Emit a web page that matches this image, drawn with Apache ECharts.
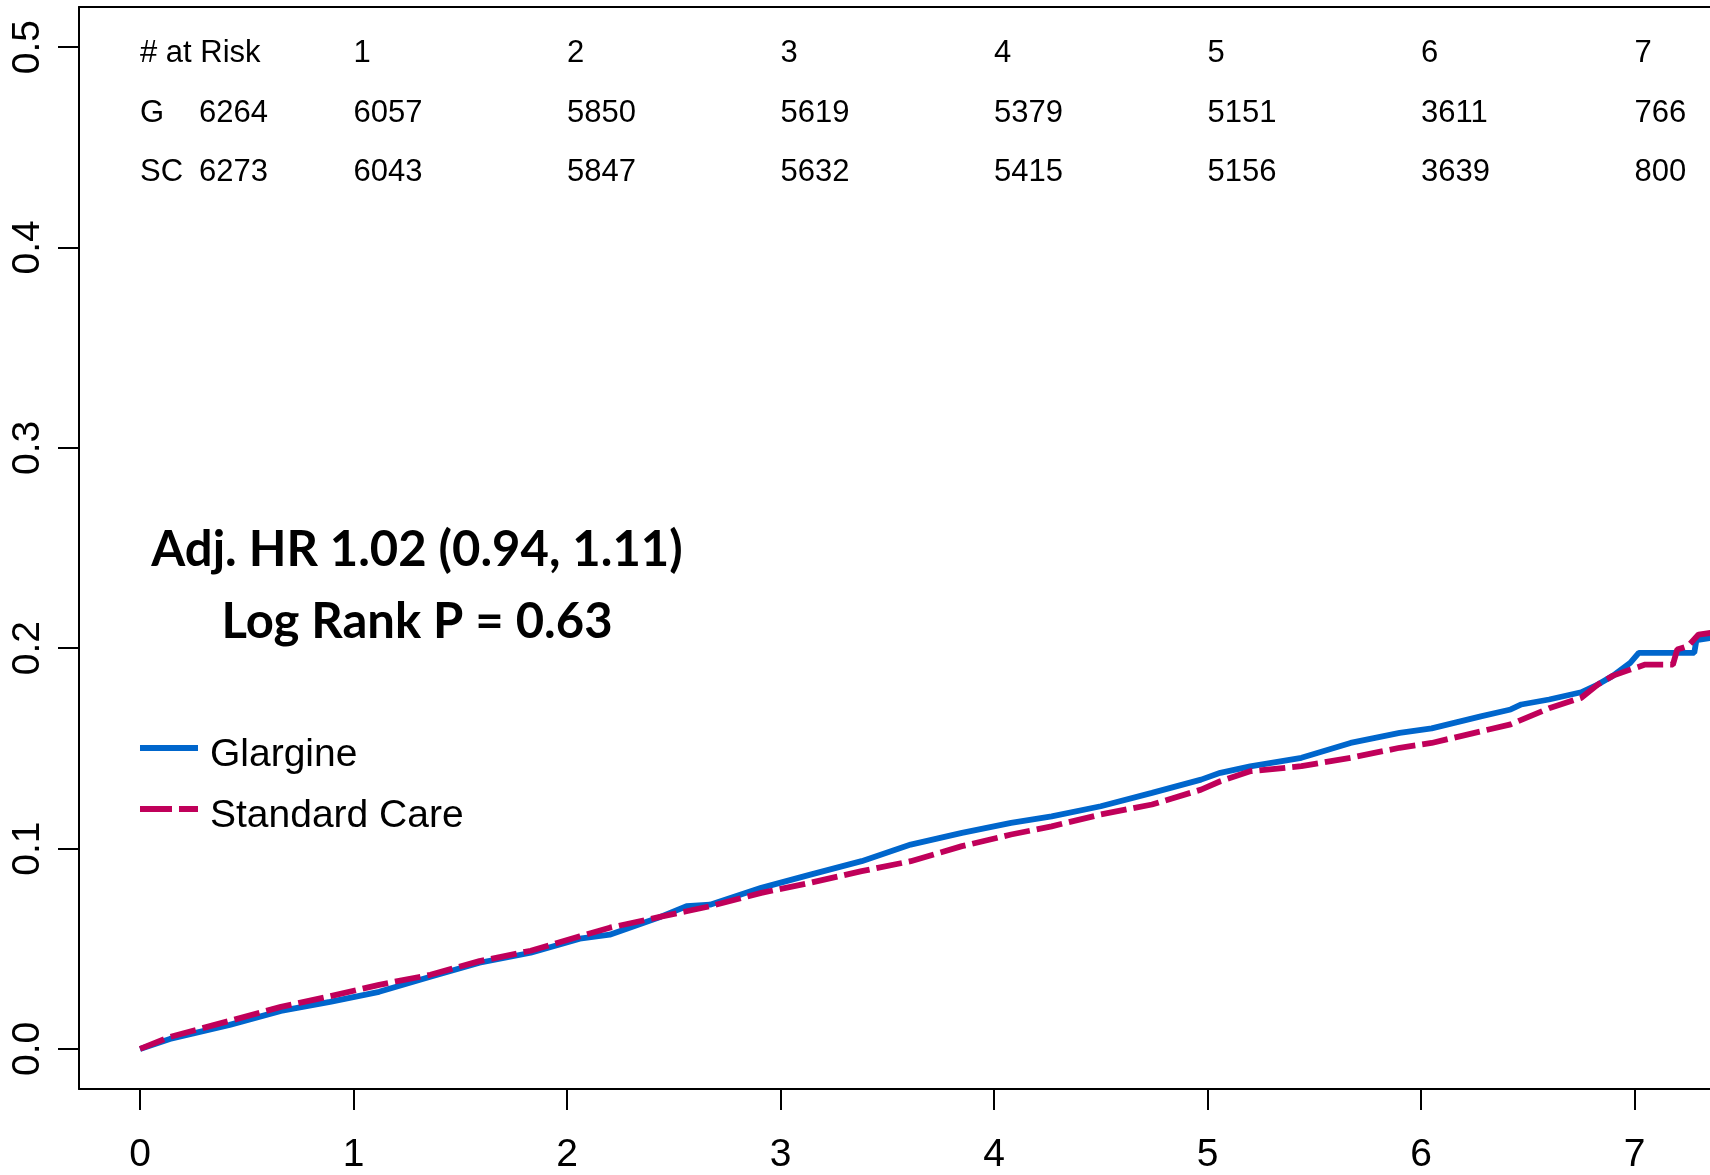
<!DOCTYPE html>
<html><head><meta charset="utf-8">
<script src="https://cdn.jsdelivr.net/npm/echarts@6/dist/echarts.min.js"></script>
<style>html,body{margin:0;padding:0;background:#fff}#c{width:1710px;height:1175px}</style>
</head><body><div id="c"></div>
<script>
// ---- data ----
const xTicks = [0, 1, 2, 3, 4, 5, 6, 7];
const yTicks = [0, 0.1, 0.2, 0.3, 0.4, 0.5];
const seriesNames = ['Glargine', 'Standard Care'];
const glargineT = [0, 0.14, 0.42, 0.66, 0.89, 1.12, 1.36, 1.59, 1.83, 2.06, 2.2, 2.44, 2.56, 2.67, 2.91, 3.14, 3.38, 3.61, 3.85, 4.08, 4.27, 4.5, 4.74, 4.97, 5.06, 5.2, 5.44, 5.67, 5.9, 6.05, 6.28, 6.42, 6.47, 6.6, 6.75, 6.83, 6.9, 6.98, 7.02, 7.28, 7.29, 7.36];
const glargineV = [0, 0.005, 0.012, 0.019, 0.0235, 0.0285, 0.036, 0.043, 0.048, 0.055, 0.057, 0.066, 0.0712, 0.072, 0.0804, 0.087, 0.0937, 0.102, 0.1078, 0.1128, 0.1161, 0.1211, 0.1278, 0.1344, 0.1378, 0.141, 0.1453, 0.1527, 0.1577, 0.160, 0.166, 0.1694, 0.1719, 0.1744, 0.178, 0.182, 0.1863, 0.1927, 0.1977, 0.1977, 0.204, 0.2052];
const standardT = [0, 0.14, 0.42, 0.66, 0.89, 1.12, 1.36, 1.59, 1.83, 2.06, 2.2, 2.44, 2.56, 2.67, 2.91, 3.14, 3.38, 3.61, 3.85, 4.08, 4.27, 4.5, 4.74, 4.97, 5.06, 5.2, 5.44, 5.67, 5.9, 6.05, 6.28, 6.42, 6.6, 6.75, 6.83, 6.9, 6.98, 7.05, 7.18, 7.2, 7.25, 7.3, 7.36];
const standardV = [0, 0.006, 0.014, 0.021, 0.0263, 0.032, 0.037, 0.0438, 0.049, 0.0562, 0.0605, 0.066, 0.0687, 0.0712, 0.0779, 0.0829, 0.0887, 0.0937, 0.1012, 0.107, 0.1111, 0.117, 0.122, 0.1294, 0.1336, 0.1386, 0.1411, 0.1453, 0.1503, 0.1527, 0.1585, 0.162, 0.170, 0.1752, 0.182, 0.1863, 0.1893, 0.1918, 0.1918, 0.1993, 0.201, 0.2068, 0.2077];
const riskHeader = '# at Risk';
const riskRowLabels = ['G', 'SC'];
const riskTimes = [0, 1, 2, 3, 4, 5, 6, 7];
const riskG = [6264, 6057, 5850, 5619, 5379, 5151, 3611, 766];
const riskSC = [6273, 6043, 5847, 5632, 5415, 5156, 3639, 800];
const annotations = ['Adj. HR 1.02 (0.94, 1.11)', 'Log Rank P = 0.63'];

// ---- chart ----
const FONT = '"Liberation Sans", Arial, sans-serif';
const zip = (a, b) => a.map((t, i) => [t, b[i]]);
const chart = echarts.init(document.getElementById('c'), null, {renderer: 'canvas'});
const GRID_W = 1661;
const X_MIN = -0.2857;
const X_MAX = X_MIN + GRID_W / 213.5;
const axisBlack = {color: '#000', width: 2};
const seriesLineStyles = [
  {color: '#0066CC', width: 5.8},
  {color: '#C0005A', width: 5.8, type: [26, 7], cap: 'butt'}
];
const option = {
  animation: false,
  backgroundColor: '#fff',
  grid: {left: 79, top: 7, width: GRID_W, bottom: 86, outerBoundsMode: 'none', containLabel: false},
  xAxis: [{
    type: 'value', min: X_MIN, max: X_MAX, position: 'bottom',
    axisLine: {show: true, onZero: false, lineStyle: axisBlack},
    splitLine: {show: false},
    axisTick: {show: true, customValues: xTicks, length: 21, lineStyle: axisBlack},
    axisLabel: {customValues: xTicks, fontSize: 39, color: '#000', fontFamily: FONT, margin: 47}
  }, {
    type: 'value', min: X_MIN, max: X_MAX, position: 'top',
    axisLine: {show: true, onZero: false, lineStyle: axisBlack},
    splitLine: {show: false}, axisTick: {show: false}, axisLabel: {show: false}
  }],
  yAxis: {
    type: 'value', min: -0.02, max: 0.52,
    axisLine: {show: true, onZero: false, lineStyle: axisBlack},
    splitLine: {show: false},
    axisTick: {show: true, customValues: yTicks, length: 21, lineStyle: axisBlack},
    axisLabel: {customValues: yTicks, rotate: 90, fontSize: 39, color: '#000', fontFamily: FONT, margin: 31,
      formatter: v => v.toFixed(1)}
  },
  series: [
    {name: seriesNames[0], type: 'line', data: zip(glargineT, glargineV), symbol: 'none', showSymbol: false,
      lineStyle: seriesLineStyles[0], itemStyle: {color: seriesLineStyles[0].color}, z: 2},
    {name: seriesNames[1], type: 'line', data: zip(standardT, standardV), symbol: 'none', showSymbol: false,
      lineStyle: seriesLineStyles[1], itemStyle: {color: seriesLineStyles[1].color}, z: 3}
  ]
};
chart.setOption(option);

const px = t => chart.convertToPixel({xAxisIndex: 0}, t);
const RISK_FONT = '31px ' + FONT;
const rowY = [53, 113, 172];
const graphics = [];
const txt = (x, y, s, font, align) => graphics.push({type: 'text', x: x, y: y, z: 10,
  style: {text: s, font: font, fill: '#000', align: align || 'left', verticalAlign: 'middle'}});
txt(px(0), rowY[0], riskHeader, RISK_FONT);
riskTimes.forEach((t, i) => {
  const x = i === 0 ? px(0) + 59 : px(t);
  if (i > 0) txt(x, rowY[0], String(t), RISK_FONT);
  txt(x, rowY[1], String(riskG[i]), RISK_FONT);
  txt(x, rowY[2], String(riskSC[i]), RISK_FONT);
});
txt(px(0), rowY[1], riskRowLabels[0], RISK_FONT);
txt(px(0), rowY[2], riskRowLabels[1], RISK_FONT);
const ANN_FONT = 'bold 49px Lato, "Open Sans", sans-serif';
txt(417, 550, annotations[0], ANN_FONT, 'center');
txt(417, 622, annotations[1], ANN_FONT, 'center');

// legend (keys drawn with the series' own line styles)
const LEG_FONT = '39px ' + FONT;
const legendLineY = [748, 809];
seriesNames.forEach((name, i) => {
  const ls = seriesLineStyles[i];
  const dash = i === 1 ? [32, 7] : null;
  graphics.push({type: 'line', z: 10,
    shape: {x1: px(0), y1: legendLineY[i], x2: px(0) + 58, y2: legendLineY[i]},
    style: {stroke: ls.color, lineWidth: ls.width, lineDash: dash, lineCap: 'butt'}});
  txt(px(0) + 70, legendLineY[i] + 7, name, LEG_FONT);
});
chart.setOption({graphic: graphics});
</script></body></html>
